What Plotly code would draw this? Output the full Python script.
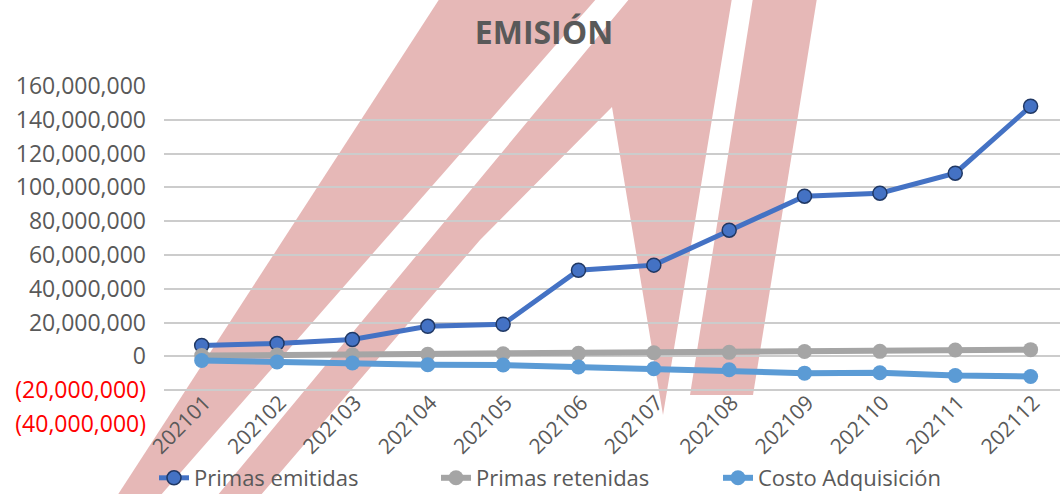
import plotly.graph_objects as go

# ---- data ----
periods = ["202101", "202102", "202103", "202104", "202105", "202106",
           "202107", "202108", "202109", "202110", "202111", "202112"]
primas_emitidas = [6.5e6, 7.7e6, 10.0e6, 17.8e6, 19.0e6, 51.0e6,
                   54.0e6, 74.7e6, 94.8e6, 96.6e6, 108.4e6, 148.0e6]
primas_retenidas = [0.5e6, 0.8e6, 1.0e6, 1.3e6, 1.6e6, 1.8e6,
                    2.2e6, 2.4e6, 2.9e6, 3.0e6, 3.8e6, 4.0e6]
costo_adquisicion = [-2.4e6, -3.3e6, -3.9e6, -4.9e6, -5.1e6, -6.3e6,
                     -7.3e6, -7.9e6, -9.9e6, -9.7e6, -11.3e6, -11.9e6]
y_ticks = [-40e6, -20e6, 0, 20e6, 40e6, 60e6, 80e6, 100e6, 120e6, 140e6, 160e6]


def fmt(v):
    if v < 0:
        return "<span style='color:#FF0000'>(" + f"{-v:,.0f}" + ")</span>"
    return f"{v:,.0f}"


y_ticktext = [fmt(v) for v in y_ticks]

FONT = "Open Sans"
GRAY_TXT = "#595959"

# ---- layout geometry (pixels) ----
W_FIG, H_FIG = 1060, 494
L, R, T, B = 164, 0, 86, 70
PW = W_FIG - L - R
PH = H_FIG - T - B
PB = H_FIG - B


def path_from_px(points):
    segs = []
    for i, (x, y) in enumerate(points):
        xp = (x - L) / PW
        yp = (PB - y) / PH
        segs.append(("M" if i == 0 else "L") + f"{xp:.5f},{yp:.5f}")
    return " ".join(segs) + " Z"


watermark = [
    [(440, -2), (597, -2), (160, 496), (117, 496)],
    [(217, 496), (630, -2), (732, -2), (663, 415), (612, 107), (480, 240), (260, 496)],
    [(753, -2), (817, -2), (753, 395), (690, 395)],
]
shapes = [dict(type="path", xref="paper", yref="paper", path=path_from_px(p),
               fillcolor="#E6B8B7", line=dict(width=0), layer="below")
          for p in watermark]

fig = go.Figure()
fig.add_trace(go.Scatter(
    x=periods, y=primas_emitidas, name="Primas emitidas", mode="lines+markers",
    line=dict(color="#4472C4", width=5),
    marker=dict(size=14, color="#4472C4", line=dict(color="#203864", width=1.5))))
fig.add_trace(go.Scatter(
    x=periods, y=primas_retenidas, name="Primas retenidas", mode="lines+markers",
    line=dict(color="#A5A5A5", width=6),
    marker=dict(size=15, color="#A5A5A5")))
fig.add_trace(go.Scatter(
    x=periods, y=costo_adquisicion, name="Costo Adquisición", mode="lines+markers",
    line=dict(color="#5B9BD5", width=6),
    marker=dict(size=15, color="#5B9BD5")))

fig.update_layout(
    width=W_FIG, height=H_FIG,
    margin=dict(l=L, r=R, t=T, b=B, autoexpand=False),
    paper_bgcolor="white", plot_bgcolor="rgba(0,0,0,0)",
    font=dict(family=FONT, size=22, color=GRAY_TXT),
    title=dict(text="<b>EMISIÓN</b>", xref="container", yref="container",
               x=544 / W_FIG, y=1 - 33 / H_FIG, xanchor="center", yanchor="middle",
               font=dict(family=FONT, size=32, color=GRAY_TXT)),
    shapes=shapes,
    showlegend=True,
    legend=dict(orientation="h", xref="container", yref="container",
                x=154 / W_FIG, y=(H_FIG - 478) / H_FIG, xanchor="left", yanchor="middle",
                bgcolor="rgba(0,0,0,0)", font=dict(family=FONT, size=22, color=GRAY_TXT),
                entrywidth=237, entrywidthmode="pixels"),
    xaxis=dict(type="category", categoryorder="array", categoryarray=periods,
               range=[-0.5, 11.39], showgrid=False, zeroline=False, showline=False,
               ticks="", tickangle=-45, anchor="free", position=0.2,
               ticklabelstandoff=29, ticklabelshift=3,
               tickfont=dict(family=FONT, size=21, color=GRAY_TXT)),
    yaxis=dict(range=[-40e6, 160e6], tickvals=y_ticks, ticktext=y_ticktext,
               showgrid=True, gridcolor="#CCCCCC", gridwidth=2,
               zeroline=False, showline=False, ticks="", ticklabelstandoff=17,
               tickfont=dict(family=FONT, size=23, color=GRAY_TXT)),
)

fig.write_html("out.html", config={"displayModeBar": False},
               post_script="document.body.style.margin='0';")
